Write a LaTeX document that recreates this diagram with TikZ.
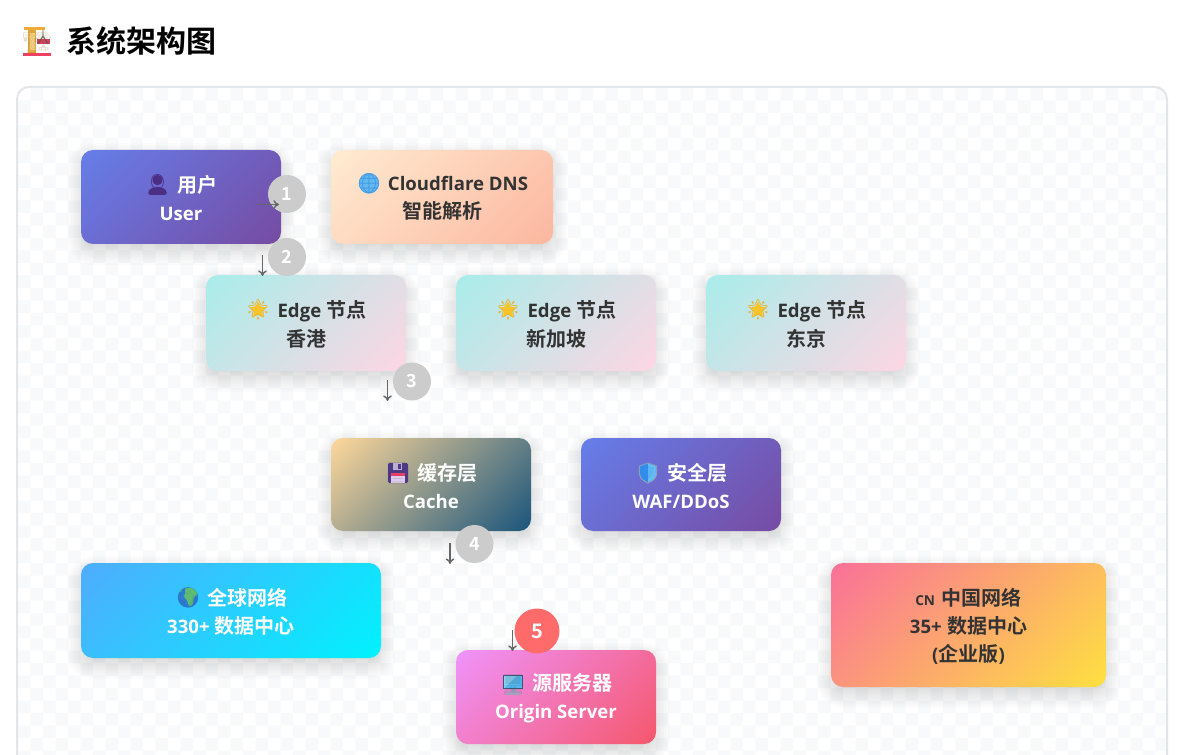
\documentclass[tikz,border=0pt]{standalone}
\usepackage{fontspec}
\usetikzlibrary{calc,arrows.meta}
\setmainfont{Noto Sans}
\newfontfamily\cjk{Noto Sans CJK SC}[BoldFont=* Bold]
\newfontfamily\lat{Open Sans}[Scale=0.93]
\newfontfamily\emo{Noto Emoji}
\definecolor{chk}{HTML}{F8F9FA}
\definecolor{frame}{HTML}{E2E6EB}
\definecolor{ink}{HTML}{333333}
\definecolor{pA}{HTML}{667EEA}\definecolor{pB}{HTML}{764BA2}
\definecolor{dA}{HTML}{FFECD2}\definecolor{dB}{HTML}{FCB69F}
\definecolor{eA}{HTML}{A8EDEA}\definecolor{eB}{HTML}{FED6E3}
\definecolor{cA}{HTML}{FFD89B}\definecolor{cB}{HTML}{19547B}
\definecolor{gA}{HTML}{4FACFE}\definecolor{gB}{HTML}{00F2FE}
\definecolor{nA}{HTML}{FA709A}\definecolor{nB}{HTML}{FEE140}
\definecolor{oA}{HTML}{F093FB}\definecolor{oB}{HTML}{F5576C}
\definecolor{bad}{HTML}{CCCCCC}\definecolor{badhot}{HTML}{FF6B6B}
\definecolor{arw}{HTML}{666666}
\definecolor{plum}{HTML}{4A2F85}\definecolor{sky}{HTML}{63B8F2}\definecolor{skyd}{HTML}{3C96E1}
\definecolor{gold}{HTML}{F8C32A}\definecolor{goldd}{HTML}{EDAE20}\definecolor{rosered}{HTML}{EE4060}
\definecolor{tower}{HTML}{E6AC3E}\definecolor{towerl}{HTML}{F2D28C}\definecolor{jib}{HTML}{F2AA3C}
\definecolor{platf}{HTML}{D73C5A}\definecolor{brownk}{HTML}{8E6813}
\definecolor{flop}{HTML}{4C3A87}\definecolor{flopl}{HTML}{E1CDEB}\definecolor{flopm}{HTML}{BEAFCD}
\definecolor{shl}{HTML}{2F8FEB}\definecolor{shr}{HTML}{69C3F8}\definecolor{shb}{HTML}{8CA0C3}\definecolor{shg}{HTML}{2F78D7}
\definecolor{sea}{HTML}{2D7DD2}\definecolor{land}{HTML}{5FBE6E}\definecolor{sead}{HTML}{1E64BE}
\definecolor{stand}{HTML}{A59BB9}\definecolor{basec}{HTML}{AFA5C3}\definecolor{bezel}{HTML}{3C5573}
\definecolor{scr}{HTML}{55B9F0}\definecolor{scrl}{HTML}{8CD7F8}
\tikzset{
  x=0.75pt,y=-0.75pt,
  cardtext/.style={inner sep=0pt,align=center,font=\fontsize{15pt}{21.3pt}\selectfont\bfseries},
  badge/.style={circle,inner sep=0pt,minimum size=28.5pt,fill=#1,text=white,font=\cjk\fontsize{13.5pt}{16pt}\selectfont\bfseries},
  flowarrow/.style={draw=arw,line width=1.05pt,-{To[length=4.2pt,width=6.5pt]}},
  glyph/.style={inner sep=0pt,font=\emo\fontsize{15pt}{18pt}\selectfont},
}
% name, x1, y1, x2, y2, colour A, colour B, text colour, content
\newcommand{\card}[9]{%
  \pgfmathsetmacro{\cxx}{(#2+#4)/2}\pgfmathsetmacro{\cyy}{(#3+#5)/2}%
  \pgfmathsetmacro{\lenh}{(#4-#2+#5-#3)*0.35355}%
  \foreach \e in {-12,-10,...,14} {
    \pgfmathsetmacro{\rr}{max(2,12+\e)*0.75}
    \fill[black,opacity=0.011,rounded corners=\rr pt]
      ({#2-\e},{#3+7-\e}) rectangle ({#4+\e},{#5+7+\e});
  }
  \begin{scope}
    \clip[rounded corners=9pt] (#2,#3) rectangle (#4,#5);
    \shade[transform canvas={rotate around={-45:(\cxx,\cyy)}},left color=#6,right color=#7]
      (\cxx-\lenh,\cyy-\lenh) rectangle (\cxx+\lenh,\cyy+\lenh);
  \end{scope}
  \node[cardtext,text=#8,minimum width={(#4-#2)*0.75pt},minimum height={(#5-#3)*0.75pt},yshift=-1pt] (#1) at (\cxx,\cyy) {#9};
}
\newcommand{\icogap}{\hspace{24pt}}
\newcommand{\Ll}[1]{{\lat #1}}
\newcommand{\icostar}[2]{\begin{scope}[shift={(#1,#2)}]
  \fill[gold,rounded corners=0.8pt] (-90:8.8) -- (-54:4.2) -- (-18:8.8) -- (18:4.2) -- (54:8.8) -- (90:4.2) -- (126:8.8) -- (162:4.2) -- (198:8.8) -- (234:4.2) -- cycle;
\end{scope}}
\begin{document}
\begin{tikzpicture}
\useasboundingbox (0,0) rectangle (1184,755);
\begin{scope}
\clip (0,0) rectangle (1184,755);
\fill[white] (0,0) rectangle (1184,755);
\begin{scope}
  \clip[rounded corners=9pt] (17,87) rectangle (1167,800);
  \fill[chk] \foreach \r in {0,...,53} { \foreach \c in {0,...,92} {
     \ifodd\numexpr\r+\c\relax
       ({18+12.5*\c},{88+12.5*\r}) rectangle ++(12.5,12.5)
     \fi } };
\end{scope}
\draw[frame,line width=1.5pt,rounded corners=9pt] (17,87) rectangle (1167,800);

% crane icon
\fill[rosered] (23,53.5) rectangle (51,56);
\fill[tower] (28,29) rectangle (36,53.5);
\fill[towerl] (29.5,33) rectangle (34.5,50);
\fill[jib] (24,27.5) rectangle (45,30);
\fill[platf] (37,39) rectangle (50,44);
\draw[black!65,line width=0.7pt] (43,30) -- (43,36) -- (38,44) (43,36) -- (48,44);
\node[glyph,font=\emo\fontsize{17pt}{20pt}\selectfont,text=brownk,text opacity=0.22] (crane) at (37,42) {🏗};
\node[inner sep=0pt,font=\cjk\fontsize{22.5pt}{26pt}\selectfont\bfseries,text=black,anchor=west] (title) at (66,41) {系统架构图};

\card{user}{81}{150}{281}{244}{pA}{pB}{white}{\icogap{\cjk 用户}\\\Ll{User}}
\card{dns}{331}{150}{553}{244}{dA}{dB}{ink}{\icogap\Ll{Cloudflare DNS}\\{\cjk 智能解析}}
\card{edgea}{206}{275}{406}{371}{eA}{eB}{ink}{\icogap\Ll{Edge} {\cjk 节点}\\{\cjk 香港}}
\card{edgeb}{456}{275}{656}{371}{eA}{eB}{ink}{\icogap\Ll{Edge} {\cjk 节点}\\{\cjk 新加坡}}
\card{edgec}{706}{275}{906}{371}{eA}{eB}{ink}{\icogap\Ll{Edge} {\cjk 节点}\\{\cjk 东京}}
\card{cache}{331}{438}{531}{531}{cA}{cB}{white}{\icogap{\cjk 缓存层}\\\Ll{Cache}}
\card{sec}{581}{438}{781}{531}{pA}{pB}{white}{\icogap{\cjk 安全层}\\\Ll{WAF/DDoS}}
\card{globalnet}{81}{563}{381}{658}{gA}{gB}{white}{\icogap{\cjk 全球网络}\\\Ll{330+} {\cjk 数据中心}}
\card{china}{831}{563}{1106}{687}{nA}{nB}{ink}{{\fontsize{11pt}{12pt}\selectfont\Ll{CN}}\hspace{5pt}{\cjk 中国网络}\\\Ll{35+} {\cjk 数据中心}\\{\Ll{(}\cjk 企业版\Ll{)}}}
\card{origin}{456}{650}{656}{744}{oA}{oB}{white}{\icogap{\cjk 源服务器}\\\Ll{Origin Server}}

% person
\begin{scope}[shift={(157.5,185)}]
  \fill[plum] (0,-5) circle[radius=5.2];
  \fill[plum,rounded corners=2pt] (-9.5,10) -- (-9,5) -- (-3,2) -- (3,2) -- (9,5) -- (9.5,10) -- cycle;
\end{scope}
\node[glyph,text=plum] (iuser) at (157.5,185) {👤};
% web globe
\fill[sky] (369,183.5) circle[radius=10];
\node[glyph,text=skyd] (idns) at (369,183.5) {🌐};
% stars
\icostar{258}{310}\icostar{508}{310}\icostar{758}{310}
\node[glyph,text=goldd] (istara) at (258,310) {🌟};
\node[glyph,text=goldd] (istarb) at (508,310) {🌟};
\node[glyph,text=goldd] (istarc) at (758,310) {🌟};
% floppy
\begin{scope}[shift={(398,473)}]
  \fill[flop,rounded corners=1pt] (-10,-10) rectangle (10,10);
  \fill[flopl] (-7,1) rectangle (7,10);
  \fill[rosered] (-7,0) rectangle (7,2.5);
  \fill[flopm] (-5,-10) rectangle (4,-3);
  \fill[flop] (0,-9) rectangle (2.5,-4);
\end{scope}
\node[glyph,text=flop,text opacity=0.2] (icache) at (398,473) {💾};
% shield
\begin{scope}[shift={(648,473)}]
  \fill[shl] (0,-10) -- (-8.5,-7) -- (-8.5,1) .. controls (-8,6) and (-4,8) .. (0,10) -- cycle;
  \fill[shr] (0,-10) -- (8.5,-7) -- (8.5,1) .. controls (8,6) and (4,8) .. (0,10) -- cycle;
  \draw[shb,line width=0.8pt] (0,-10) -- (8.5,-7) -- (8.5,1) .. controls (8,6) and (4,8) .. (0,10) .. controls (-4,8) and (-8,6) .. (-8.5,1) -- (-8.5,-7) -- cycle;
\end{scope}
\node[glyph,text=shg,text opacity=0.2] (isec) at (648,473) {🛡};
% earth
\begin{scope}
  \clip (188,597.5) circle[radius=10.2];
  \fill[sea] (188,597.5) circle[radius=10.2];
  \fill[land,rounded corners=2pt] (184,588) -- (196,588) -- (198,595) -- (194,596) -- (193,605) -- (189,607) -- (187,599) -- (183,597) -- (186,593) -- cycle;
  \fill[land] (180,590) circle[radius=2.2];
\end{scope}
\node[glyph,text=sead,text opacity=0.2] (iglobal) at (188,597.5) {🌍};
% monitor
\begin{scope}[shift={(513,685)}]
  \fill[stand] (-2.5,3) rectangle (2.5,7);
  \fill[basec,rounded corners=0.8pt] (-7.5,6.5) rectangle (7.5,10);
  \fill[bezel] (-10,-10) rectangle (10,4);
  \fill[scr] (-9,-9) rectangle (9,3);
  \fill[scrl] (-9,-9) -- (4,-9) -- (-9,3) -- cycle;
\end{scope}
\node[glyph,text=bezel,text opacity=0.2] (iorigin) at (513,685) {🖥};

\node[badge=bad] (b1) at (287,194) {1};
\node[badge=bad] (b2) at (287,257) {2};
\node[badge=bad] (b3) at (412,381.5) {3};
\node[badge=bad] (b4) at (474.5,544) {4};
\node[badge=badhot,minimum size=33.75pt,font=\cjk\fontsize{15pt}{18pt}\selectfont\bfseries] (b5) at (537,631) {5};

\coordinate (a1s) at (258,204.5); \coordinate (a1e) at (279,204.5);
\coordinate (a2s) at (262.5,255); \coordinate (a2e) at (262.5,276);
\coordinate (a3s) at (387.5,380); \coordinate (a3e) at (387.5,401);
\coordinate (a4s) at (450,543); \coordinate (a4e) at (450,564);
\coordinate (a5s) at (512.5,630); \coordinate (a5e) at (512.5,651);
\foreach \n in {1,...,5} \draw[flowarrow] (a\n s) -- (a\n e);
\end{scope}
\end{tikzpicture}
\end{document}
